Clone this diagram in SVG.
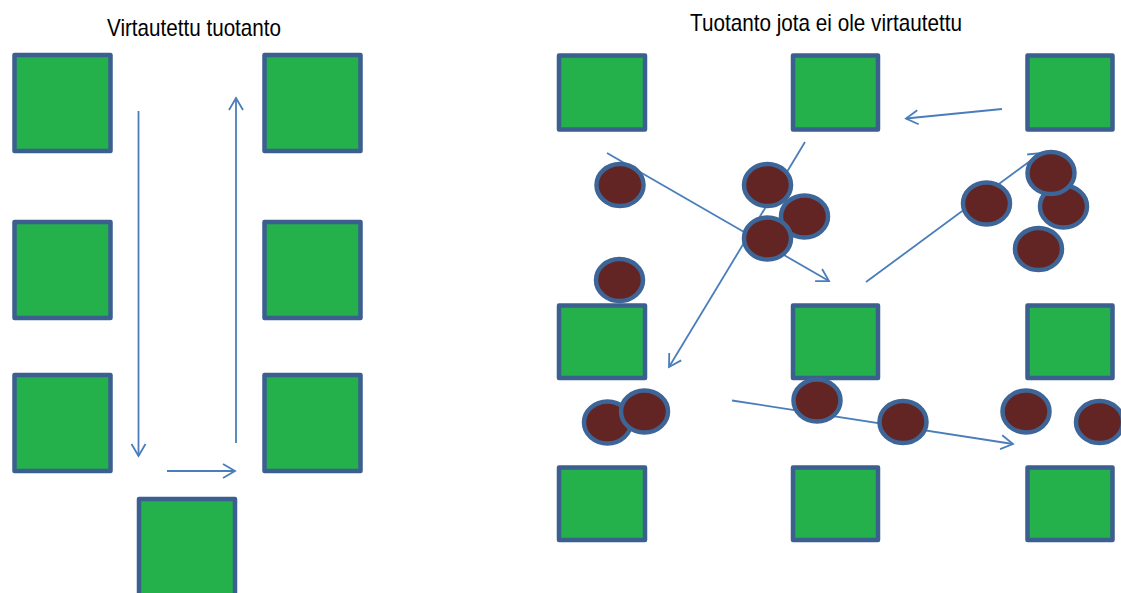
<svg xmlns="http://www.w3.org/2000/svg" width="1121" height="593" viewBox="0 0 1121 593">
<style>
.sq{fill:#24b14c;stroke:#3b5f8f;stroke-width:4.5;stroke-linejoin:round}
.ci{fill:#632523;stroke:#3d6597;stroke-width:4.5}
.ar{fill:none;stroke:#4a7ebb;stroke-width:1.8;marker-end:url(#ah)}
.ln{fill:none;stroke:#4a7ebb;stroke-width:1.8}
.t{font-family:"Liberation Sans",Arial,sans-serif;font-size:24px;fill:#000}
</style>
<defs>
<marker id="ah" markerUnits="userSpaceOnUse" markerWidth="20" markerHeight="20" refX="13" refY="8" orient="auto" overflow="visible">
<path d="M1,1 L13,8 L1,15" fill="none" stroke="#4a7ebb" stroke-width="1.8"/>
</marker>
</defs>
<rect width="1121" height="593" fill="#fff"/>
<text class="t" x="107" y="36" textLength="174" lengthAdjust="spacingAndGlyphs">Virtautettu tuotanto</text>
<text class="t" x="690" y="31" textLength="272" lengthAdjust="spacingAndGlyphs">Tuotanto jota ei ole virtautettu</text>
<g id="connectors">
<line class="ar" x1="138.5" y1="111" x2="138.5" y2="456"/>
<line class="ar" x1="236" y1="443" x2="236" y2="98"/>
<line class="ar" x1="167" y1="471" x2="235" y2="471"/>
<line class="ar" x1="1002" y1="109" x2="906" y2="118.5"/>
<line class="ar" x1="607" y1="153" x2="829" y2="281"/>
<line class="ar" x1="805" y1="142" x2="669" y2="367"/>
<line class="ar" x1="866" y1="282" x2="1041" y2="153"/>
<line class="ar" x1="732" y1="400.5" x2="1013" y2="444"/>
</g>
<g id="left-squares">
<rect id="l1" class="sq" x="14.5" y="55" width="96" height="96"/>
<rect id="l2" class="sq" x="264.5" y="55" width="96" height="96"/>
<rect id="l3" class="sq" x="14.5" y="222" width="96" height="96"/>
<rect id="l4" class="sq" x="264.5" y="222" width="96" height="96"/>
<rect id="l5" class="sq" x="14.5" y="375" width="96" height="96"/>
<rect id="l6" class="sq" x="264.5" y="375" width="96" height="96"/>
<rect id="l7" class="sq" x="139" y="499" width="96" height="110"/>
</g>
<g id="right-squares">
<rect id="r1" class="sq" x="559" y="55.5" width="86" height="74"/>
<rect id="r2" class="sq" x="793" y="55.5" width="85" height="74"/>
<rect id="r3" class="sq" x="1027.5" y="55.5" width="85" height="74"/>
<rect id="r4" class="sq" x="559" y="305.5" width="86" height="72.5"/>
<rect id="r5" class="sq" x="793" y="305.5" width="85" height="72.5"/>
<rect id="r6" class="sq" x="1027.5" y="305.5" width="85" height="72.5"/>
<rect id="r7" class="sq" x="559" y="467.5" width="86" height="72.5"/>
<rect id="r8" class="sq" x="793" y="467.5" width="85" height="72.5"/>
<rect id="r9" class="sq" x="1027.5" y="467.5" width="85" height="72.5"/>
</g>
<g id="circles">
<ellipse id="c1" class="ci" cx="620" cy="185" rx="23.5" ry="21"/>
<ellipse id="c2" class="ci" cx="767.5" cy="185" rx="23.5" ry="21"/>
<ellipse id="c3" class="ci" cx="804.5" cy="216.5" rx="23.5" ry="21"/>
<ellipse id="c4" class="ci" cx="767.5" cy="238.5" rx="23.5" ry="21"/>
<ellipse id="c5" class="ci" cx="619.5" cy="280" rx="23.5" ry="21"/>
<ellipse id="c6" class="ci" cx="986.5" cy="203.5" rx="23.5" ry="21"/>
<ellipse id="c8" class="ci" cx="1063.5" cy="206.5" rx="23.5" ry="21"/>
<ellipse id="c7" class="ci" cx="1051" cy="173" rx="23.5" ry="21"/>
<ellipse id="c9" class="ci" cx="1038.5" cy="249" rx="23.5" ry="21"/>
<ellipse id="c11" class="ci" cx="607.5" cy="422.5" rx="23.5" ry="21"/>
<ellipse id="c12" class="ci" cx="644.5" cy="411.5" rx="23.5" ry="21"/>
<ellipse id="c13" class="ci" cx="817" cy="400.5" rx="23.5" ry="21"/>
<ellipse id="c14" class="ci" cx="903" cy="422" rx="23.5" ry="21"/>
<ellipse id="c15" class="ci" cx="1026" cy="411.5" rx="23.5" ry="21"/>
<ellipse id="c16" class="ci" cx="1099.5" cy="422" rx="23.5" ry="21"/>
</g>
</svg>
